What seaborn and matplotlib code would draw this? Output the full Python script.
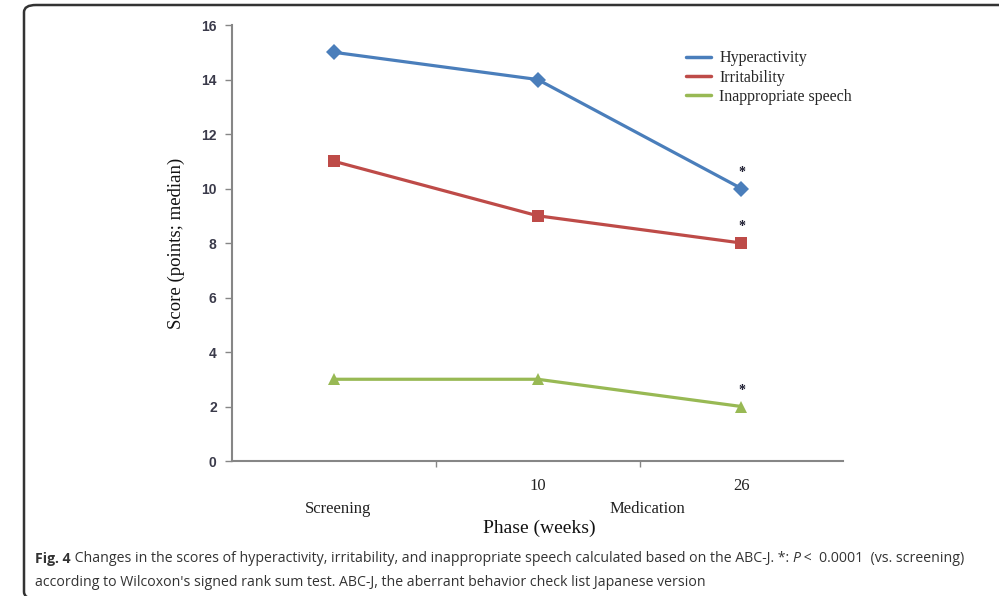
import pandas as pd
import seaborn as sns
import matplotlib.pyplot as plt
import numpy as np
from matplotlib.patches import FancyBboxPatch
from matplotlib import transforms

# data
phases = ['Screening', '10', '26']
hyperactivity = [15, 14, 10]
irritability = [11, 9, 8]
inappropriate_speech = [3, 3, 2]
significant = [False, False, True]
group_labels = ['Screening', 'Medication']
y_ticks = [0, 2, 4, 6, 8, 10, 12, 14, 16]

series_names = ['Hyperactivity', 'Irritability', 'Inappropriate speech']
colors = {'Hyperactivity': '#4A7EBB', 'Irritability': '#BE4B48',
          'Inappropriate speech': '#98B954'}
markers = {'Hyperactivity': 'D', 'Irritability': 's', 'Inappropriate speech': '^'}

pos = np.arange(len(phases)) + 0.5
df = pd.DataFrame({
    'pos': np.tile(pos, 3),
    'score': hyperactivity + irritability + inappropriate_speech,
    'series': np.repeat(series_names, len(phases)),
})

sns.set_style('white')
plt.rcParams['font.family'] = ['Liberation Serif', 'DejaVu Serif']

fig = plt.figure(figsize=(9.99, 5.96), dpi=100)
ax = fig.add_axes([0.2322, 0.2265, 0.612, 0.7315])

sns.lineplot(data=df, x='pos', y='score', hue='series', style='series',
             palette=colors, markers=markers, dashes=False, linewidth=2.3,
             markersize=8.5, markeredgewidth=0, legend=False, ax=ax)

# significance asterisks
for name, vals in zip(series_names, [hyperactivity, irritability, inappropriate_speech]):
    for x, v, s in zip(pos, vals, significant):
        if s:
            ax.annotate('*', (x, v), xytext=(0, 7), textcoords='offset points',
                        ha='center', va='bottom', fontsize=10, color='#1a1a2e',
                        fontweight='bold')

ax.set_xlim(0, 3)
ax.set_ylim(0, 16)
ax.set_yticks(y_ticks)
ax.set_yticklabels([str(t) for t in y_ticks], family='Liberation Sans',
                   fontweight='bold', fontsize=10, color='#3a3a4a')
ax.tick_params(axis='y', direction='out', length=5, width=1, color='#868686',
               left=True, pad=6)

# boundary ticks between phases, labels under data points
ax.set_xticks([1, 2])
ax.set_xticklabels(['', ''])
ax.tick_params(axis='x', which='major', direction='out', length=4, width=1,
               color='#868686', bottom=True)
ax.set_xticks(pos, minor=True)
ax.set_xticklabels(['', phases[1], phases[2]], minor=True, fontsize=12,
                   color='#222222')
ax.tick_params(axis='x', which='minor', length=0, pad=12)

trans = transforms.blended_transform_factory(ax.transData, fig.transFigure)
ax.text(pos[0] + 0.02, 1 - 509 / 596, group_labels[0], transform=trans,
        ha='center', va='center', fontsize=12, color='#222222')
ax.text(2.04, 1 - 509 / 596, group_labels[1], transform=trans,
        ha='center', va='center', fontsize=12, color='#222222')

ax.set_xlabel('Phase (weeks)', fontsize=14, color='#111111')
ax.set_ylabel('Score (points; median)', fontsize=13.5, color='#111111', labelpad=12)
ax.xaxis.set_label_coords(1.51, 1 - 528 / 596, transform=trans)
ax.xaxis.label.set_va('center')

sns.despine(ax=ax, top=True, right=True)
for side in ['left', 'bottom']:
    ax.spines[side].set_color('#868686')
    ax.spines[side].set_linewidth(1.5)

handles = [plt.Line2D([], [], color=colors[n], lw=2.5) for n in series_names]
ax.legend(handles, series_names, loc='upper left', bbox_to_anchor=(0.7185, 0.975),
          frameon=False, fontsize=11.5, handlelength=1.6, handletextpad=0.5,
          labelspacing=0.2)

# rounded figure frame
frame = FancyBboxPatch((24 / 999, -3 / 596), 1.05, 1 - 2 / 596,
                       boxstyle='round,pad=0,rounding_size=0.012',
                       transform=fig.transFigure, fill=False,
                       edgecolor='#333333', linewidth=1.8, clip_on=False)
fig.patches.append(frame)

# caption
cap_y1 = 1 - 559 / 596
cap_y2 = 1 - 582 / 596
cap_kw = dict(fontsize=10.2, color='#333333', family='Open Sans', va='center')
t1 = fig.text(35 / 999, cap_y1, 'Fig. 4', fontweight='bold', **cap_kw)
t2 = fig.text(0, 0, ' Changes in the scores of hyperactivity, irritability, and inappropriate '
              'speech calculated based on the ABC-J. *: ', **cap_kw)
t3 = fig.text(0, 0, 'P', style='italic', **cap_kw)
t4 = fig.text(0, 0, ' <  0.0001  (vs. screening)', **cap_kw)
fig.text(35 / 999, cap_y2, "according to Wilcoxon's signed rank sum test. ABC-J, the "
         'aberrant behavior check list Japanese version', **cap_kw)

fig.canvas.draw()
prev = t1
for t in [t2, t3, t4]:
    bb = prev.get_window_extent()
    x = fig.transFigure.inverted().transform((bb.x1, 0))[0]
    t.set_position((x, cap_y1))
    fig.canvas.draw()
    prev = t

plt.savefig('out.png', dpi=100)
